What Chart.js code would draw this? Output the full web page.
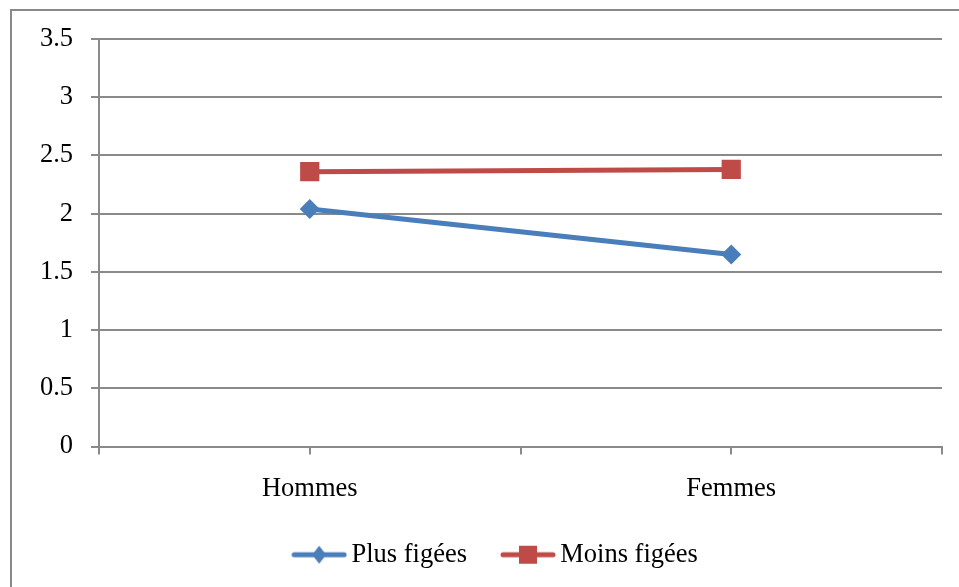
<!DOCTYPE html>
<html>
<head>
<meta charset="utf-8">
<script src="https://cdn.jsdelivr.net/npm/chart.js@4/dist/chart.umd.min.js"></script>
<style>
  html, body { margin: 0; padding: 0; background: #fff; overflow: hidden; }
  #frame { position: absolute; left: 10px; top: 9px; width: 1000px; height: 700px; border: 2px solid #898989; }
  #wrap { position: absolute; left: 0; top: 0; width: 959px; height: 587px; }
</style>
</head>
<body>
<div id="frame"></div>
<div id="wrap"><canvas id="c" width="959" height="587"></canvas></div>
<script>
const categories = ['Hommes', 'Femmes'];
const seriesNames = ['Plus figées', 'Moins figées'];
const plusFigees = [2.04, 1.65];
const moinsFigees = [2.36, 2.38];
const yTickLabels = ['0', '0.5', '1', '1.5', '2', '2.5', '3', '3.5'];

const BLUE = '#4A7EBB';
const RED = '#BE4B48';
const GRID = '#8a8a8a';
const FONT = 'Liberation Serif, Times New Roman, serif';

function legendSwatch(color, style) {
  const cv = document.createElement('canvas');
  cv.width = 56; cv.height = 22;
  const ctx = cv.getContext('2d');
  ctx.strokeStyle = color; ctx.lineWidth = 5; ctx.lineCap = 'round';
  ctx.beginPath(); ctx.moveTo(3, 11); ctx.lineTo(53, 11); ctx.stroke();
  ctx.fillStyle = color;
  ctx.beginPath();
  if (style === 'diamond') {
    ctx.moveTo(28, 2); ctx.lineTo(35, 11); ctx.lineTo(28, 20); ctx.lineTo(21, 11);
  } else {
    ctx.rect(19, 2, 18, 18);
  }
  ctx.closePath(); ctx.fill();
  return cv;
}
const swatches = [legendSwatch(BLUE, 'diamond'), legendSwatch(RED, 'square')];

const legendShift = {
  id: 'legendShift',
  afterLayout(chart) {
    if (chart.legend) { chart.legend.left += 28; chart.legend.right += 28; }
  }
};

new Chart(document.getElementById('c'), {
  type: 'line',
  plugins: [legendShift],
  data: {
    datasets: [
      {
        label: seriesNames[0],
        data: plusFigees.map((v, i) => ({ x: i, y: v })),
        borderColor: BLUE, backgroundColor: BLUE, borderWidth: 5,
        pointStyle: 'rectRot', pointRadius: 10, pointBorderWidth: 0, pointHoverRadius: 10,
        fill: false, tension: 0
      },
      {
        label: seriesNames[1],
        data: moinsFigees.map((v, i) => ({ x: i, y: v })),
        borderColor: RED, backgroundColor: RED, borderWidth: 5,
        pointStyle: 'rect', pointRadius: 13.6, pointBorderWidth: 0, pointHoverRadius: 13.6,
        fill: false, tension: 0
      }
    ]
  },
  options: {
    responsive: false,
    animation: false,
    events: [],
    layout: { padding: { left: 0, right: 17, top: 39, bottom: 9 } },
    scales: {
      x: {
        type: 'linear',
        min: -0.5, max: 1.5,
        afterBuildTicks: (s) => { s.ticks = [-0.5, 0, 0.5, 1, 1.5].map(v => ({ value: v })); },
        afterFit: (s) => { s.height = 53; s.paddingLeft = 0; s.paddingRight = 0; },
        grid: { drawOnChartArea: false, drawTicks: true, tickLength: 8, color: GRID, lineWidth: 2 },
        border: { display: true, color: GRID, width: 2 },
        ticks: {
          autoSkip: false, maxRotation: 0, padding: 19,
          color: '#000', font: { family: FONT, size: 26.5 },
          callback: (v) => Number.isInteger(v) ? categories[v] : ''
        }
      },
      y: {
        min: 0, max: 3.5,
        afterBuildTicks: (s) => { s.ticks = yTickLabels.map(t => ({ value: parseFloat(t) })); },
        afterFit: (s) => { s.width = 99; },
        grid: { color: GRID, lineWidth: 2, tickLength: 8, drawTicks: true },
        border: { display: true, color: GRID, width: 2 },
        ticks: {
          padding: 18, color: '#000', font: { family: FONT, size: 26.5 },
          callback: (v, i) => yTickLabels[i]
        }
      }
    },
    plugins: {
      tooltip: { enabled: false },
      legend: {
        position: 'bottom',
        labels: {
          usePointStyle: true, pointStyleWidth: 38, padding: 42,
          color: '#000', font: { family: FONT, size: 26.5 },
          generateLabels: (chart) => chart.data.datasets.map((d, i) => ({
            text: d.label, pointStyle: swatches[i], fillStyle: d.borderColor,
            strokeStyle: d.borderColor, lineWidth: 0, hidden: false, datasetIndex: i, fontColor: '#000'
          }))
        }
      }
    }
  }
});
</script>
</body>
</html>
